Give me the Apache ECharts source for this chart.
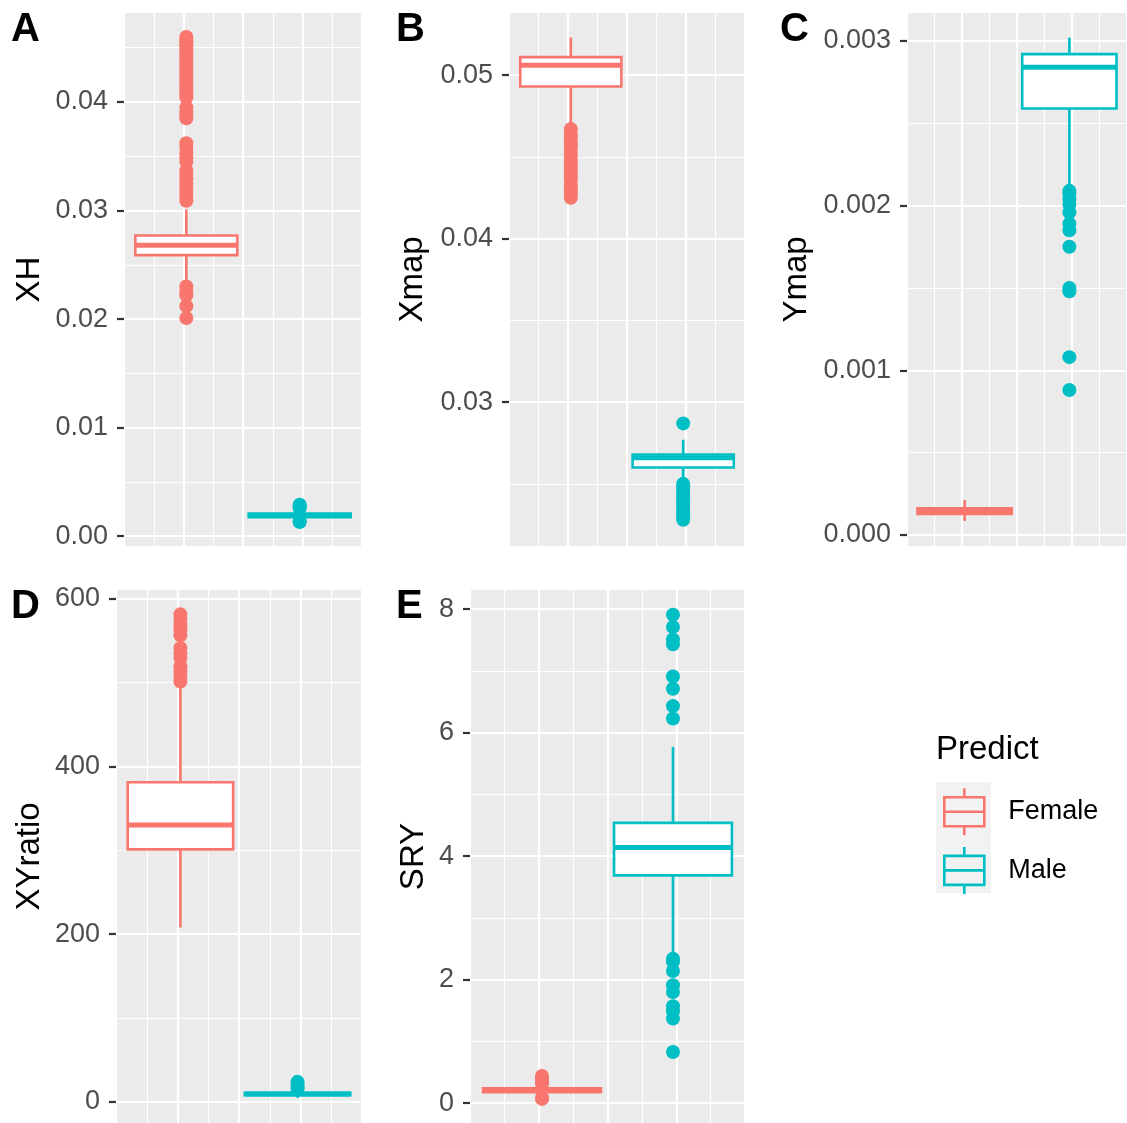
<!DOCTYPE html>
<html><head><meta charset="utf-8">
<script src="https://cdn.jsdelivr.net/npm/echarts@6/dist/echarts.min.js"></script>
<style>html,body{margin:0;padding:0;background:#fff}#c{width:1127px;height:1123px}</style>
</head><body><div id="c"></div>
<script>
const groups = ['Female', 'Male'];
const groupColors = ['#F8766D', '#00BFC4'];

// Box stats: [lower whisker, Q1, median, Q3, upper whisker]
const xhFemaleBox = [0.0234, 0.0259, 0.0268, 0.0277, 0.0301];
const xhMaleBox = [0.0015, 0.00175, 0.0019, 0.0021, 0.0025];
const xhFemaleOut = [0.0460, 0.0457, 0.0455, 0.0452, 0.0449, 0.0446, 0.0443, 0.0440, 0.0437, 0.0434, 0.0431, 0.0428, 0.0425, 0.0422, 0.0419, 0.0416, 0.0413, 0.0410, 0.0407, 0.0404, 0.0395, 0.0391, 0.0388, 0.0385, 0.0362, 0.0358, 0.0353, 0.0349, 0.0345, 0.0337, 0.0333, 0.0329, 0.0325, 0.0321, 0.0317, 0.0313, 0.0309, 0.0230, 0.0226, 0.0222, 0.0212, 0.0201];
const xhMaleOut = [0.0029, 0.0028, 0.0027, 0.0026, 0.0014, 0.0013];
const xhTicks = [0, 0.01, 0.02, 0.03, 0.04];

const xmapFemaleBox = [0.0470, 0.0493, 0.0506, 0.0511, 0.0523];
const xmapMaleBox = [0.0254, 0.0260, 0.0266, 0.0268, 0.0277];
const xmapFemaleOut = [0.0467, 0.0464, 0.0462, 0.0459, 0.0457, 0.0455, 0.0452, 0.0450, 0.0447, 0.0445, 0.0443, 0.0440, 0.0438, 0.0436, 0.0433, 0.0431, 0.0429, 0.0427, 0.0425];
const xmapMaleOut = [0.0287, 0.0250, 0.0248, 0.0246, 0.0244, 0.0242, 0.0240, 0.0238, 0.0236, 0.0234, 0.0232, 0.0230, 0.0228];
const xmapTicks = [0.03, 0.04, 0.05];

const ymapFemaleBox = [0.000085, 0.000128, 0.000145, 0.000162, 0.000212];
const ymapMaleBox = [0.00212, 0.00259, 0.00284, 0.00292, 0.00302];
const ymapFemaleOut = [];
const ymapMaleOut = [0.00209, 0.00207, 0.00204, 0.00201, 0.00196, 0.00189, 0.00185, 0.00175, 0.00150, 0.00148, 0.00108, 0.00088];
const ymapTicks = [0, 0.001, 0.002, 0.003];

const xyFemaleBox = [208, 301, 330, 381, 495];
const xyMaleBox = [5, 8, 9.5, 11, 14];
const xyFemaleOut = [581, 575, 568, 562, 556, 541, 535, 529, 519, 513, 507, 501];
const xyMaleOut = [24, 21, 18, 16];
const xyTicks = [0, 200, 400, 600];

const sryFemaleBox = [0.13, 0.18, 0.21, 0.24, 0.29];
const sryMaleBox = [2.37, 3.69, 4.14, 4.54, 5.77];
const sryFemaleOut = [0.44, 0.40, 0.35, 0.31, 0.09, 0.07];
const sryMaleOut = [7.91, 7.71, 7.51, 7.43, 6.91, 6.71, 6.43, 6.23, 2.34, 2.29, 2.14, 1.91, 1.80, 1.57, 1.49, 1.37, 0.83];
const sryTicks = [0, 2, 4, 6, 8];

const FONT = 'Liberation Sans, Arial, sans-serif';

const panels = [
  {tag: 'A', title: 'XH', boxes: [xhFemaleBox, xhMaleBox], outs: [xhFemaleOut, xhMaleOut], ticks: xhTicks, digits: 2,
   min: -0.0009, max: 0.0482, step: 0.01, grid: {left: 124, top: 13, width: 238, height: 533}, nameGap: 78, tagPos: [11, 10]},
  {tag: 'B', title: 'Xmap', boxes: [xmapFemaleBox, xmapMaleBox], outs: [xmapFemaleOut, xmapMaleOut], ticks: xmapTicks, digits: 2,
   min: 0.0212, max: 0.0538, step: 0.01, grid: {left: 509, top: 13, width: 236, height: 533}, nameGap: 80, tagPos: [396, 10]},
  {tag: 'C', title: 'Ymap', boxes: [ymapFemaleBox, ymapMaleBox], outs: [ymapFemaleOut, ymapMaleOut], ticks: ymapTicks, digits: 3,
   min: -0.000067, max: 0.00317, step: 0.001, grid: {left: 907, top: 13, width: 220, height: 533}, nameGap: 94, tagPos: [780, 10]},
  {tag: 'D', title: 'XYratio', boxes: [xyFemaleBox, xyMaleBox], outs: [xyFemaleOut, xyMaleOut], ticks: xyTicks, digits: 0,
   min: -25, max: 610, step: 200, grid: {left: 116, top: 590, width: 246, height: 538}, nameGap: 70, tagPos: [11, 587]},
  {tag: 'E', title: 'SRY', boxes: [sryFemaleBox, sryMaleBox], outs: [sryFemaleOut, sryMaleOut], ticks: sryTicks, digits: 0,
   min: -0.32, max: 8.31, step: 2, grid: {left: 470, top: 590, width: 275, height: 534}, nameGap: 40, tagPos: [396, 587]}
];

const BOX_WIDTH = 0.9;
const X_EXPAND = 0.55;

function renderBox(params, api) {
  const g = api.value(0);
  const c = groupColors[g];
  const pLo = api.coord([g, api.value(1)]);
  const pQ1 = api.coord([g, api.value(2)]);
  const pMed = api.coord([g, api.value(3)]);
  const pQ3 = api.coord([g, api.value(4)]);
  const pHi = api.coord([g, api.value(5)]);
  const hw = api.size([BOX_WIDTH, 0])[0] / 2;
  const x = pMed[0];
  return {
    type: 'group',
    children: [
      {type: 'line', shape: {x1: x, y1: pLo[1], x2: x, y2: pQ1[1]}, style: {stroke: c, lineWidth: 2.6}},
      {type: 'line', shape: {x1: x, y1: pQ3[1], x2: x, y2: pHi[1]}, style: {stroke: c, lineWidth: 2.6}},
      {type: 'rect', shape: {x: x - hw, y: pQ3[1], width: 2 * hw, height: pQ1[1] - pQ3[1]},
       style: {fill: '#fff', stroke: c, lineWidth: 2.6}},
      {type: 'line', shape: {x1: x - hw, y1: pMed[1], x2: x + hw, y2: pMed[1]}, style: {stroke: c, lineWidth: 5}}
    ]
  };
}

const option = {
  backgroundColor: '#fff',
  animation: false,
  textStyle: {fontFamily: FONT},
  grid: [], xAxis: [], yAxis: [], series: [],
  title: [],
  legend: {
    orient: 'vertical', left: 943, top: 787, padding: 0,
    itemWidth: 42, itemHeight: 47, itemGap: 9, selectedMode: false,
    data: groups.map((g, i) => ({
      name: g,
      icon: 'path://M21 0L21 9M1 9L41 9L41 38L1 38ZM1 23.5L41 23.5M21 38L21 47',
      itemStyle: {color: 'rgba(0,0,0,0)', borderColor: groupColors[i], borderWidth: 2.6}
    })),
    textStyle: {fontSize: 27, color: '#000', fontFamily: FONT, padding: [0, 0, 0, 18]}
  },
  graphic: [
    {type: 'rect', left: 936, top: 782, z: 0, shape: {width: 55, height: 111}, style: {fill: '#F2F2F2'}}
  ]
};

option.title.push({text: 'Predict', left: 936, top: 733, padding: 0,
  textStyle: {fontSize: 33, fontWeight: 'normal', color: '#000', fontFamily: FONT}});

panels.forEach((p, i) => {
  option.grid.push(Object.assign({show: true, backgroundColor: '#EBEBEB', borderWidth: 0}, p.grid));
  option.xAxis.push({type: 'value', gridIndex: i, min: -X_EXPAND, max: 1 + X_EXPAND, show: false});
  option.xAxis.push({type: 'value', gridIndex: i, min: 0, max: 8, interval: 2,
    axisLine: {show: false, onZero: false}, axisTick: {show: false}, axisLabel: {show: false},
    splitLine: {show: true, lineStyle: {color: '#fff', width: 2.2}},
    minorTick: {show: false, splitNumber: 2},
    minorSplitLine: {show: true, lineStyle: {color: '#fff', width: 1.1}}});
  option.yAxis.push({type: 'value', gridIndex: i, min: p.min, max: p.max, position: 'left',
    minInterval: p.step, maxInterval: p.step, splitNumber: 5,
    axisLine: {show: false, onZero: false},
    axisTick: {show: true, length: 7, lineStyle: {color: '#333', width: 2.2}, customValues: p.ticks},
    axisLabel: {customValues: p.ticks, fontSize: 27, color: '#4D4D4D', margin: 16, fontFamily: FONT,
      formatter: v => Number(v).toFixed(p.digits)},
    splitLine: {show: true, lineStyle: {color: '#fff', width: 2.2}},
    minorTick: {show: false, splitNumber: 2},
    minorSplitLine: {show: true, lineStyle: {color: '#fff', width: 1.1}},
    name: p.title, nameLocation: 'middle', nameGap: p.nameGap,
    nameTextStyle: {fontSize: 33, color: '#000', fontFamily: FONT}});
  option.title.push({text: p.tag, left: p.tagPos[0], top: p.tagPos[1], padding: 0,
    textStyle: {fontSize: 40, fontWeight: 'bold', color: '#000', fontFamily: FONT}});
  groups.forEach((g, gi) => {
    option.series.push({type: 'scatter', name: g, xAxisIndex: 2 * i, yAxisIndex: i,
      data: p.outs[gi].map(v => [gi, v]), symbolSize: 14, itemStyle: {color: groupColors[gi], opacity: 1},
      z: 2, silent: true});
    option.series.push({type: 'custom', name: g, xAxisIndex: 2 * i, yAxisIndex: i,
      data: [[gi].concat(p.boxes[gi])], renderItem: renderBox,
      encode: {x: 0, y: [1, 2, 3, 4, 5]},
      itemStyle: {color: groupColors[gi], borderColor: groupColors[gi]}, z: 3, silent: true});
  });
});

const chart = echarts.init(document.getElementById('c'), null, {renderer: 'canvas'});
chart.setOption(option);
</script></body></html>
